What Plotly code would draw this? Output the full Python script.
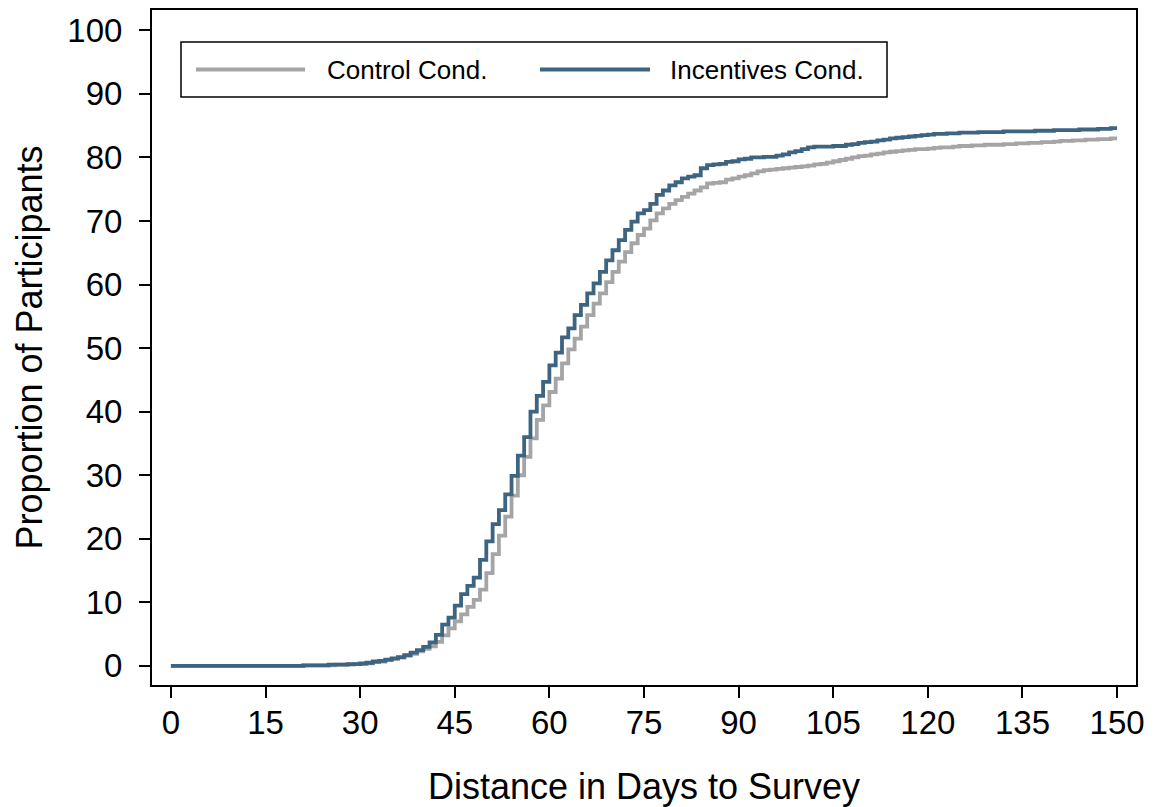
import plotly.graph_objects as go

# ---------------- data ----------------
days = list(range(0, 151))

series_names = ["Control Cond.", "Incentives Cond."]

control = [
    0.0, 0.0, 0.0, 0.0, 0.0, 0.0, 0.0, 0.0, 0.0, 0.0,          # 0-9
    0.0, 0.0, 0.0, 0.0, 0.0, 0.0, 0.0, 0.0, 0.0, 0.0,          # 10-19
    0.0, 0.1, 0.1, 0.1, 0.1, 0.1, 0.2, 0.2, 0.2, 0.3,          # 20-29
    0.3, 0.4, 0.6, 0.7, 0.9, 1.1, 1.3, 1.6, 1.9, 2.3,          # 30-39
    2.7, 3.1, 3.8, 4.8, 5.9, 7.0, 8.1, 9.3, 10.4, 12.0,        # 40-49
    14.6, 17.6, 20.5, 23.5, 26.8, 30.0, 32.9, 35.8, 38.7, 41.0,  # 50-59
    43.1, 45.2, 47.6, 49.8, 51.5, 53.4, 55.2, 57.0, 58.6, 60.4,  # 60-69
    62.0, 63.6, 65.1, 66.5, 67.8, 68.8, 70.1, 71.2, 72.0, 72.7,  # 70-79
    73.3, 73.8, 74.3, 74.8, 75.3, 75.9, 76.0, 76.1, 76.5, 76.7,  # 80-89
    77.0, 77.2, 77.5, 77.8, 78.0, 78.1, 78.2, 78.3, 78.4, 78.5,  # 90-99
    78.6, 78.7, 78.9, 79.0, 79.2, 79.4, 79.6, 79.8, 80.0, 80.2,  # 100-109
    80.3, 80.5, 80.6, 80.8, 80.9, 81.0, 81.1, 81.2, 81.3, 81.3,  # 110-119
    81.4, 81.5, 81.6, 81.6, 81.7, 81.8, 81.8, 81.9, 81.9, 82.0,  # 120-129
    82.0, 82.0, 82.1, 82.1, 82.2, 82.2, 82.3, 82.3, 82.4, 82.4,  # 130-139
    82.5, 82.6, 82.6, 82.7, 82.7, 82.8, 82.8, 82.9, 82.9, 83.0,  # 140-149
    83.0,                                                        # 150
]

incentives = [
    0.0, 0.0, 0.0, 0.0, 0.0, 0.0, 0.0, 0.0, 0.0, 0.0,          # 0-9
    0.0, 0.0, 0.0, 0.0, 0.0, 0.0, 0.0, 0.0, 0.0, 0.0,          # 10-19
    0.0, 0.1, 0.1, 0.1, 0.1, 0.2, 0.2, 0.2, 0.3, 0.3,          # 20-29
    0.4, 0.5, 0.7, 0.8, 1.0, 1.2, 1.4, 1.7, 2.1, 2.5,          # 30-39
    3.0, 3.7, 4.9, 6.5, 7.6, 9.5, 11.3, 12.6, 13.9, 16.7,      # 40-49
    19.6, 22.3, 24.5, 27.0, 29.9, 33.1, 36.0, 40.0, 42.5, 44.7,  # 50-59
    47.3, 49.3, 51.7, 53.1, 55.2, 56.8, 58.6, 60.2, 62.0, 63.8,  # 60-69
    65.4, 67.0, 68.6, 69.9, 71.2, 71.7, 72.7, 74.1, 74.8, 75.6,  # 70-79
    76.1, 76.7, 77.0, 77.2, 78.3, 78.8, 78.9, 79.0, 79.3, 79.4,  # 80-89
    79.7, 79.8, 80.0, 80.0, 80.1, 80.1, 80.3, 80.5, 80.8, 81.0,  # 90-99
    81.3, 81.6, 81.7, 81.7, 81.7, 81.8, 81.8, 82.0, 82.1, 82.3,  # 100-109
    82.4, 82.5, 82.7, 82.8, 83.0, 83.1, 83.2, 83.3, 83.4, 83.5,  # 110-119
    83.6, 83.7, 83.7, 83.8, 83.8, 83.9, 83.9, 83.9, 84.0, 84.0,  # 120-129
    84.0, 84.0, 84.1, 84.1, 84.1, 84.1, 84.1, 84.2, 84.2, 84.2,  # 130-139
    84.3, 84.3, 84.3, 84.3, 84.4, 84.4, 84.4, 84.5, 84.5, 84.6,  # 140-149
    84.6,                                                        # 150
]

x_ticks = list(range(0, 151, 15))
y_ticks = list(range(0, 101, 10))

x_title = "Distance in Days to Survey"
y_title = "Proportion of Participants"

# ---------------- styling ----------------
FONT = "Liberation Sans, Arial, Helvetica, sans-serif"
colors = ["#a5a5a5", "#3d6480"]
OFF = 8  # default page body margin
W, H = 1155 - OFF, 807 - OFF
ML, MR, MT, MB = 152 - OFF, 19, 10 - OFF, 122
PW, PH = W - ML - MR, H - MT - MB


def px_x(px):
    return (px - OFF - ML) / PW


def px_y(py):
    return (H - MB - (py - OFF)) / PH


fig = go.Figure()
for name, vals, col in zip(series_names, [control, incentives], colors):
    fig.add_trace(go.Scatter(
        x=days, y=vals, name=name, mode="lines",
        line=dict(color=col, width=3.8, shape="hv"),
        showlegend=False,
    ))

axis_common = dict(
    showgrid=False, zeroline=False,
    showline=True, mirror=True, linecolor="black", linewidth=2,
    ticks="outside", ticklen=11, tickwidth=1.5, tickcolor="black",
    tickfont=dict(family=FONT, size=33, color="black"),
    automargin=False,
)

fig.update_xaxes(
    range=[-3, 153], tickmode="array", tickvals=x_ticks,
    ticktext=[str(t) for t in x_ticks], ticklabelstandoff=-4,
    title=dict(text=x_title, font=dict(family=FONT, size=36, color="black"), standoff=34),
    **axis_common,
)
fig.update_yaxes(
    range=[-3, 103.2], tickmode="array", tickvals=y_ticks,
    ticktext=[str(t) for t in y_ticks], ticklabelstandoff=10,
    title=dict(text=y_title, font=dict(family=FONT, size=36, color="black"), standoff=14),
    **axis_common,
)

# ---------------- legend (drawn as box + samples + labels) ----------------
shapes = [dict(type="rect", xref="paper", yref="paper",
               x0=px_x(181), x1=px_x(887), y0=px_y(97), y1=px_y(42),
               line=dict(color="black", width=1.5), fillcolor="white", layer="above")]
annotations = []
leg_line_px = [(196, 305, 325), (540, 650, 668)]
for (lx0, lx1, tx), name, col in zip(leg_line_px, series_names, colors):
    shapes.append(dict(type="line", xref="paper", yref="paper",
                       x0=px_x(lx0), x1=px_x(lx1), y0=px_y(69.5), y1=px_y(69.5),
                       line=dict(color=col, width=3.8), layer="above"))
    annotations.append(dict(xref="paper", yref="paper", x=px_x(tx), y=px_y(70),
                            text=name, showarrow=False, xanchor="left", yanchor="middle",
                            font=dict(family=FONT, size=26, color="black")))

fig.update_layout(
    width=W, height=H,
    margin=dict(l=ML, r=MR, t=MT, b=MB, pad=0),
    paper_bgcolor="white", plot_bgcolor="white",
    shapes=shapes, annotations=annotations,
    font=dict(family=FONT, color="black"),
)

fig.write_html("out.html")
